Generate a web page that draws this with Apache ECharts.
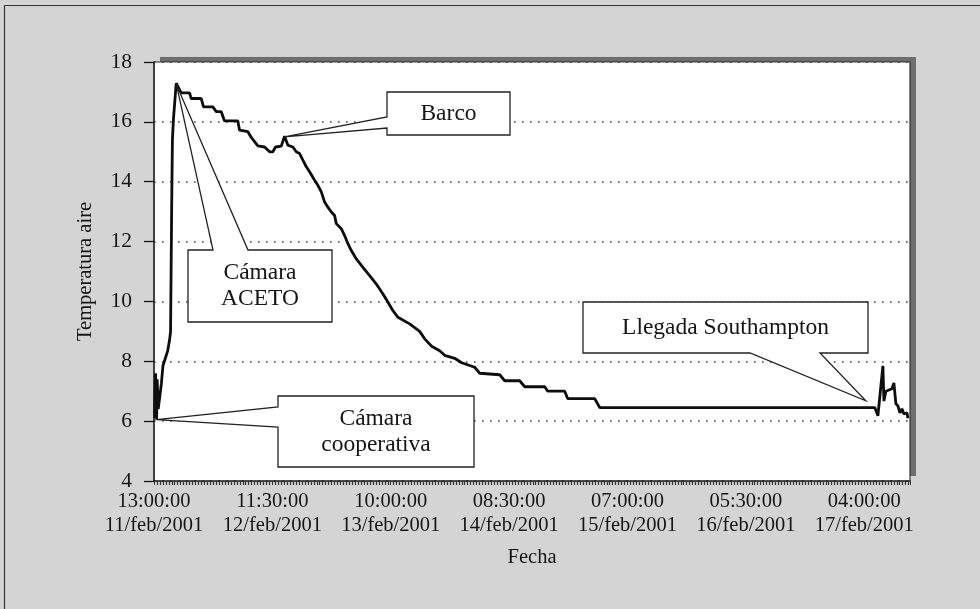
<!DOCTYPE html>
<html lang="es">
<head>
    <meta charset="UTF-8">
    <title>Temperatura aire</title>
    <style>
        html, body { margin: 0; padding: 0; background: #d4d4d4; }
        #main { width: 980px; height: 609px; }
    </style>
</head>
<body>
<div id="main"></div>
<script src="https://cdn.jsdelivr.net/npm/echarts@6/dist/echarts.min.js"></script>
<script type="text/javascript">
    // horas desde 11/feb/2001 13:00:00
    var hours = [0.1, 0.3, 0.5, 0.6, 0.8, 1.0, 1.4, 1.7, 2.0, 2.6, 2.95, 3.15, 3.35, 3.5, 3.7, 4.22,
        5.17, 6.75, 7.07, 8.98, 9.41, 11.18, 11.83, 12.78, 13.41, 15.94, 16.26, 17.84, 18.49, 19.74,
        21.02, 21.97, 22.59, 23.11, 24.19, 24.82, 25.45, 26.40, 27.04, 27.67, 28.30, 28.95, 29.57,
        30.53, 31.15, 31.80, 32.43, 33.05, 33.70, 34.33, 34.65, 35.60, 36.23, 36.86, 37.51, 38.46,
        39.71, 40.99, 42.26, 43.52, 44.28, 45.42, 46.37, 48.59, 50.49, 51.45, 52.78, 54.30, 55.25,
        57.15, 58.48, 60.96, 61.91, 65.71, 66.66, 69.51, 70.47, 74.27, 74.84, 78.07, 78.64, 83.78,
        84.73, 137.03, 137.60, 138.55, 138.74, 139.12, 140.26, 140.64, 141.02, 141.40, 141.79,
        142.17, 142.55, 143.12, 143.31];
    var temps = [6.1, 7.6, 6.05, 7.4, 6.4, 6.45, 7.25, 7.85, 7.9, 8.35, 8.7, 9.0, 13.0, 15.4, 16.1, 17.29,
        16.97, 16.97, 16.78, 16.78, 16.5, 16.5, 16.34, 16.34, 16.03, 16.03, 15.72, 15.67, 15.48, 15.2,
        15.16, 15.0, 15.0, 15.16, 15.19, 15.52, 15.22, 15.16, 15.0, 14.94, 14.72, 14.5, 14.33,
        14.05, 13.88, 13.66, 13.32, 13.15, 12.99, 12.87, 12.6, 12.43, 12.2, 11.93, 11.7, 11.42,
        11.14, 10.86, 10.58, 10.25, 10.03, 9.69, 9.47, 9.25, 9.0, 8.75, 8.5, 8.35, 8.2,
        8.1, 7.95, 7.8, 7.6, 7.55, 7.35, 7.35, 7.15, 7.15, 7.0, 7.0, 6.75, 6.75,
        6.45, 6.45, 6.18, 7.85, 6.67, 7.0, 7.08, 7.28, 6.58, 6.51, 6.28,
        6.41, 6.24, 6.28, 6.1];
    var xTickLabels = ['13:00:00\n11/feb/2001', '11:30:00\n12/feb/2001', '10:00:00\n13/feb/2001',
        '08:30:00\n14/feb/2001', '07:00:00\n15/feb/2001', '05:30:00\n16/feb/2001', '04:00:00\n17/feb/2001'];
    var xStep = 22.5;
    var xMax = 143.7;

    // cuadros de texto y el punto (horas, temperatura) al que apuntan
    var calloutText = ['Cámara\nACETO', 'Barco', 'Cámara\ncooperativa', 'Llegada Southampton'];
    var calloutTip = [[4.25, 17.25], [24.8, 15.5], [0.48, 6.05], [135.3, 6.68]];

    var serif = 'Liberation Serif';
    var ink = '#151515';
    var data = hours.map(function (h, i) { return [h, temps[i]]; });

    var myChart = echarts.init(document.getElementById('main'));
    var option = {
        backgroundColor: '#d4d4d4',
        animation: false,
        grid: {
            left: 154, right: 70, top: 62, bottom: 128,
            show: true,
            backgroundColor: '#fff',
            borderWidth: 0,
            shadowColor: '#6e6e6e',
            shadowBlur: 0,
            shadowOffsetX: 6,
            shadowOffsetY: -5
        },
        xAxis: {
            type: 'value',
            min: 0,
            max: xMax,
            interval: xStep,
            name: 'Fecha',
            nameLocation: 'middle',
            nameGap: 66,
            nameTextStyle: { fontFamily: serif, fontSize: 20.5, color: ink },
            axisLine: { lineStyle: { color: ink, width: 1.6 } },
            axisTick: { show: true, length: 4, lineStyle: { color: '#333' } },
            minorTick: { show: true, splitNumber: 40, length: 4, lineStyle: { color: '#333', width: 1.2 } },
            splitLine: { show: false },
            axisLabel: {
                fontFamily: serif, fontSize: 20.5, color: ink, lineHeight: 24, margin: 9,
                showMaxLabel: false, hideOverlap: false,
                formatter: function (v) {
                    var i = Math.round(v / xStep);
                    return Math.abs(v - i * xStep) < 1e-6 && xTickLabels[i] ? xTickLabels[i] : '';
                }
            }
        },
        yAxis: {
            type: 'value',
            min: 4,
            max: 18,
            interval: 2,
            name: 'Temperatura aire',
            nameLocation: 'middle',
            nameGap: 58,
            nameTextStyle: { fontFamily: serif, fontSize: 20.5, color: ink },
            axisLine: { show: true, lineStyle: { color: ink, width: 1.6 } },
            axisTick: { show: true, length: 10, lineStyle: { color: ink, width: 1.3 } },
            axisLabel: { fontFamily: serif, fontSize: 21.5, color: ink, margin: 22 },
            splitLine: { show: true, lineStyle: { color: '#444', width: 1.6, type: [1.6, 6.4] } }
        },
        series: [{
            type: 'line',
            data: data,
            showSymbol: false,
            lineStyle: { color: '#0d0d0d', width: 2.8 },
            z: 3
        }]
    };
    myChart.setOption(option);

    var calloutBox = [[188, 250, 332, 322], [387, 92, 510, 135], [278, 396, 474, 467], [583, 302, 868, 353]];
    var calloutSide = ['top', 'left', 'left', 'bottom'];
    var calloutBase = [[213, 248], [117, 128], [407, 427], [750, 820]];

    function calloutPoints(b, side, base, tip) {
        var x1 = b[0], y1 = b[1], x2 = b[2], y2 = b[3];
        if (side === 'top') {
            return [[x1, y1], [base[0], y1], tip, [base[1], y1], [x2, y1], [x2, y2], [x1, y2]];
        }
        if (side === 'left') {
            return [[x1, y1], [x2, y1], [x2, y2], [x1, y2], [x1, base[1]], tip, [x1, base[0]]];
        }
        return [[x1, y1], [x2, y1], [x2, y2], [base[1], y2], tip, [base[0], y2], [x1, y2]];
    }

    var toPx = function (p) { return myChart.convertToPixel({ xAxisIndex: 0, yAxisIndex: 0 }, p); };
    var tl = toPx([0, 18]), br = toPx([xMax, 4]);
    var elements = [
        // marco exterior
        { type: 'line', shape: { x1: 4.5, y1: 5.5, x2: 980, y2: 5.5 }, style: { stroke: '#333', lineWidth: 1.2 } },
        { type: 'line', shape: { x1: 4.5, y1: 5.5, x2: 4.5, y2: 609 }, style: { stroke: '#333', lineWidth: 1.2 } },
        // borde superior y derecho del área de trazado
        { type: 'polyline', z: 50, shape: { points: [[tl[0], tl[1]], [br[0], tl[1]], [br[0], br[1]]] },
          style: { stroke: '#333', lineWidth: 1.2, fill: null } }
    ];
    calloutText.forEach(function (t, i) {
        var tip = toPx(calloutTip[i]);
        var b = calloutBox[i];
        elements.push({
            type: 'polygon', z: 100,
            shape: { points: calloutPoints(b, calloutSide[i], calloutBase[i], tip) },
            style: { fill: '#fff', stroke: '#222', lineWidth: 1.3 }
        });
        elements.push({
            type: 'text', z: 101,
            x: (b[0] + b[2]) / 2, y: (b[1] + b[3]) / 2,
            style: {
                text: t, fontFamily: serif, fontSize: 23.5, lineHeight: 26, fill: ink,
                align: 'center', verticalAlign: 'middle'
            }
        });
    });
    myChart.setOption({ graphic: { elements: elements } });
</script>
</body>
</html>
